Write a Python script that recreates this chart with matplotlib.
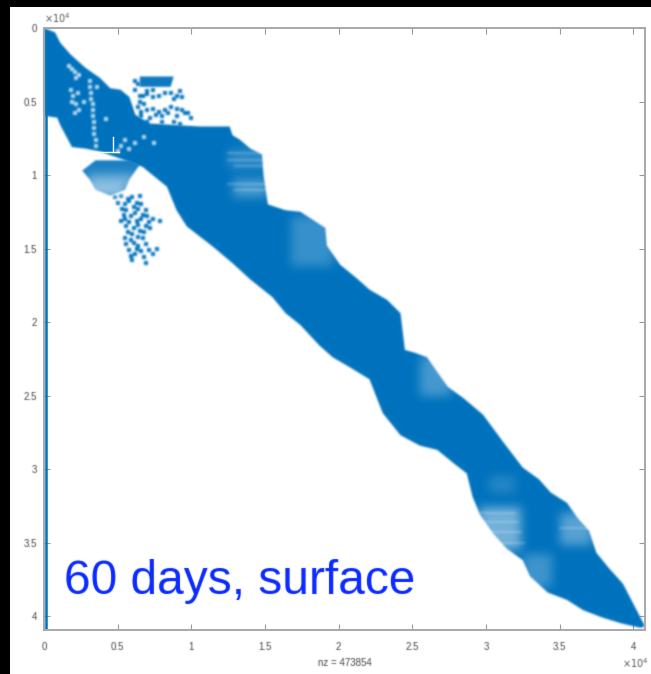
import numpy as np
import matplotlib
matplotlib.use('Agg')
import matplotlib.pyplot as plt
from matplotlib.patches import Rectangle

# sparsity-pattern outline, in units of 1e4 (row/column index)
band_x = [0,.075,.11,.18,.28,.38,.45,.52,.58,.62,.72,.89,1.06,1.26,1.28,1.33,1.40,1.48,1.49,1.52,1.58,1.64,1.74,1.91,1.92,2.01,2.12,2.21,2.33,2.42,2.45,2.52,2.60,2.74,2.85,2.98,3.12,3.25,3.36,3.44,3.55,3.62,3.70,3.75,3.84,3.93,4.08,
          4.05,3.92,3.79,3.66,3.55,3.42,3.30,3.25,3.14,3.05,2.96,2.91,2.87,2.78,2.67,2.55,2.42,2.30,2.21,2.08,1.96,1.87,1.74,1.64,1.55,1.40,1.28,1.15,.97,.90,.835,.67,.58,.38,.28,.19,.11,.09,.02,0]
band_y = [0,.03,.10,.18,.27,.34,.41,.42,.47,.59,.65,.66,.67,.67,.73,.76,.82,.86,1.0,1.20,1.22,1.24,1.25,1.36,1.48,1.61,1.70,1.78,1.85,1.94,2.19,2.21,2.24,2.44,2.52,2.63,2.82,2.99,3.07,3.16,3.23,3.33,3.42,3.57,3.68,3.78,4.07,
          4.08,4.05,4.01,3.96,3.89,3.84,3.73,3.62,3.54,3.44,3.31,3.19,3.03,2.96,2.87,2.84,2.77,2.62,2.39,2.31,2.24,2.16,2.02,1.94,1.83,1.71,1.60,1.49,1.35,1.24,1.08,.945,.91,.84,.82,.81,.66,.61,.60,.59]
lobe_x = [.26,.35,.58,.65,.58,.55,.45,.35,.31]
lobe_y = [.97,.90,.90,.93,1.03,1.10,1.14,1.10,1.03]
top_block_x = [.65,.88,.86,.65]
top_block_y = [.33,.33,.40,.40]

# isolated entries
cluster_x = [.48,.52,.57,.60,.65,.50,.55,.58,.63,.66,.53,.56,.61,.64,.69,.54,.59,.62,.67,.70,.52,.55,.58,.63,.66,.71,.74,.79,.56,.61,.64,.69,.72,.57,.60,.65,.68,.55,.59,.64,.67,.56,.61,.64,.69,.58,.63,.66,.71,.77,.59,.62,.68,.74,.60,.69]
cluster_y = [1.15,1.14,1.16,1.15,1.14,1.19,1.20,1.18,1.19,1.20,1.23,1.24,1.22,1.23,1.24,1.27,1.28,1.26,1.27,1.28,1.31,1.30,1.32,1.31,1.30,1.32,1.30,1.31,1.35,1.36,1.34,1.35,1.36,1.39,1.40,1.38,1.39,1.43,1.44,1.42,1.43,1.47,1.46,1.48,1.47,1.51,1.50,1.52,1.51,1.50,1.55,1.54,1.56,1.54,1.58,1.60]
upper_x = [.62,.64,.62,.65,.65,.67,.70,.74,.78,.82,.64,.68,.66,.70,.74,.78,.82,.86,.90,.94,.98,.66,.72,.76,.80,.84,.90,.96,1.00,.66,.70,.80,.88,.92,.88,.90,.94,.86,.92,.70,.74]
upper_y = [.36,.38,.42,.46,.50,.46,.45,.47,.46,.44,.54,.52,.57,.56,.55,.57,.56,.54,.55,.56,.58,.60,.61,.59,.60,.58,.60,.58,.61,.65,.64,.64,.64,.65,.48,.46,.47,.44,.43,.43,.42]
speck_x = [.31,.31,.32,.32,.33,.33,.33,.34,.34,.34,.35,.35,.36,.36,.17,.19,.21,.22,.24,.18,.20,.23,.19,.22,.21,.24,.50,.52,.55,.58,.62,.68,.75,.27,.42]
speck_y = [.36,.40,.44,.48,.52,.56,.60,.64,.68,.72,.76,.80,.28,.40,.26,.28,.30,.34,.32,.42,.46,.44,.50,.52,.58,.56,.84,.80,.76,.82,.78,.74,.78,.50,.62]

x_ticks = [0,.5,1,1.5,2,2.5,3,3.5,4]
y_ticks = [0,.5,1,1.5,2,2.5,3,3.5,4]
x_labels = ['0','0.5','1','1.5','2','2.5','3','3.5','4']
y_labels = ['0','0.5','1','1.5','2','2.5','3','3.5','4']

# faded zones: x0, y0, x1, y1, fade strength
zone_x0 = [2.55,2.95,3.50,1.28,1.25,1.68,3.25,3.02,.30,.30]
zone_y0 = [2.24,3.26,3.30,1.03,.82,1.28,3.58,3.05,.99,1.06]
zone_x1 = [2.76,3.24,3.72,1.52,1.55,1.96,3.45,3.20,.62,.55]
zone_y1 = [2.50,3.55,3.52,1.15,.96,1.62,3.80,3.16,1.08,1.14]
zone_a  = [.28,.45,.35,.30,.18,.22,.25,.15,.40,.55]

# faint horizontal streaks
streak_y = [3.30,3.36,3.43,3.50,3.40,.85,.90,.94,1.06,1.10]
streak_x0 = [2.96,2.98,3.00,3.06,3.50,1.25,1.25,1.30,1.25,1.30]
streak_x1 = [3.20,3.22,3.24,3.26,3.70,1.52,1.52,1.52,1.52,1.52]

BLUE = '#0072BD'
W, H = 651, 674
def blur(sigma):
    r = int(3 * sigma) + 1
    k = np.exp(-0.5 * (np.arange(-r, r + 1) / sigma) ** 2); k /= k.sum()
    def f(img, dpi):
        a = np.pad(img.astype(float), ((r, r), (r, r), (0, 0)))
        a[..., :3] *= a[..., 3:4]
        a = np.apply_along_axis(lambda v: np.convolve(v, k, mode='same'), 0, a)
        a = np.apply_along_axis(lambda v: np.convolve(v, k, mode='same'), 1, a)
        al = np.clip(a[..., 3:4], 1e-4, 1)
        a[..., :3] = np.clip(a[..., :3] / al, 0, 1)
        a[..., 3:4] = np.clip(a[..., 3:4], 0, 1)
        return a, -r, -r
    return f

plt.rcParams['font.family'] = ['Liberation Sans', 'DejaVu Sans']
fig = plt.figure(figsize=(W / 100, H / 100), dpi=100, facecolor='black')
fig.patches.append(Rectangle((10 / W, 0), 1, 1 - 7 / H, transform=fig.transFigure, fc='white', ec='none', zorder=-5))
ax = fig.add_axes([44 / W, 1 - 630 / H, 601 / W, 602 / H], facecolor='none')

g = blur(1.0)
for xs, ys, alpha in [(band_x, band_y, 1), (lobe_x, lobe_y, .9), (top_block_x, top_block_y, .95)]:
    p, = ax.fill(xs, ys, color=BLUE, alpha=alpha, lw=0, zorder=2)
    p.set_agg_filter(g)
for xs, ys in [(cluster_x, cluster_y), (upper_x, upper_y)]:
    s = ax.scatter(xs, ys, s=8, marker='s', color=BLUE, linewidths=0, zorder=2)
    s.set_agg_filter(blur(.8))
for x0, y0, x1, y1, a in zip(zone_x0, zone_y0, zone_x1, zone_y1, zone_a):
    r = ax.add_patch(Rectangle((x0, y0), x1 - x0, y1 - y0, fc='white', alpha=a, ec='none', zorder=3))
    r.set_agg_filter(blur(5))
for y, x0, x1 in zip(streak_y, streak_x0, streak_x1):
    ln, = ax.plot([x0, x1], [y, y], color='white', lw=1.6, alpha=.22, zorder=3)
    ln.set_agg_filter(blur(1.2))
s = ax.scatter(speck_x, speck_y, s=5, marker='s', color='white', alpha=.75, linewidths=0, zorder=4)
s.set_agg_filter(blur(.8))
ax.plot([.012, .012], [.59, 4.09], color=BLUE, lw=1.8, zorder=2)
ax.plot([.33, .51], [.845, .845], color='white', lw=1.0, zorder=4)
ax.plot([.47, .47], [.74, .845], color='white', lw=1.0, zorder=4)

ax.set_xlim(0, 4.08)
ax.set_ylim(4.095, 0)
ax.set_xticks(x_ticks, x_labels)
ax.set_yticks(y_ticks, y_labels)
ax.tick_params(direction='in', length=4, width=.8, color='#999999', labelcolor='#444444', labelsize=7,
               top=True, right=True, pad=9)
ax.tick_params(axis='y', pad=5)
for sp in ax.spines.values():
    sp.set_color('#a8a8a8')
    sp.set_linewidth(1.4)
ax.set_xlabel('nz = 473854', fontsize=7, color='#444444', labelpad=4)
small = list(ax.get_xticklabels()) + list(ax.get_yticklabels()) + [ax.xaxis.label]
small.append(fig.text(44 / W, 1 - 18 / H, r'$\times 10^4$', fontsize=7, color='#555555', va='center'))
small.append(fig.text(622 / W, 1 - 663 / H, r'$\times 10^4$', fontsize=7, color='#555555', va='center'))
for t in small:
    t.set_agg_filter(blur(.6))
title = fig.text(64 / W, 1 - 594 / H, '60 days, surface', fontsize=34.5, color='#0A2BFF', va='baseline', ha='left')
title.set_agg_filter(blur(.5))
fig.savefig('out.png', dpi=100, facecolor=fig.get_facecolor())
